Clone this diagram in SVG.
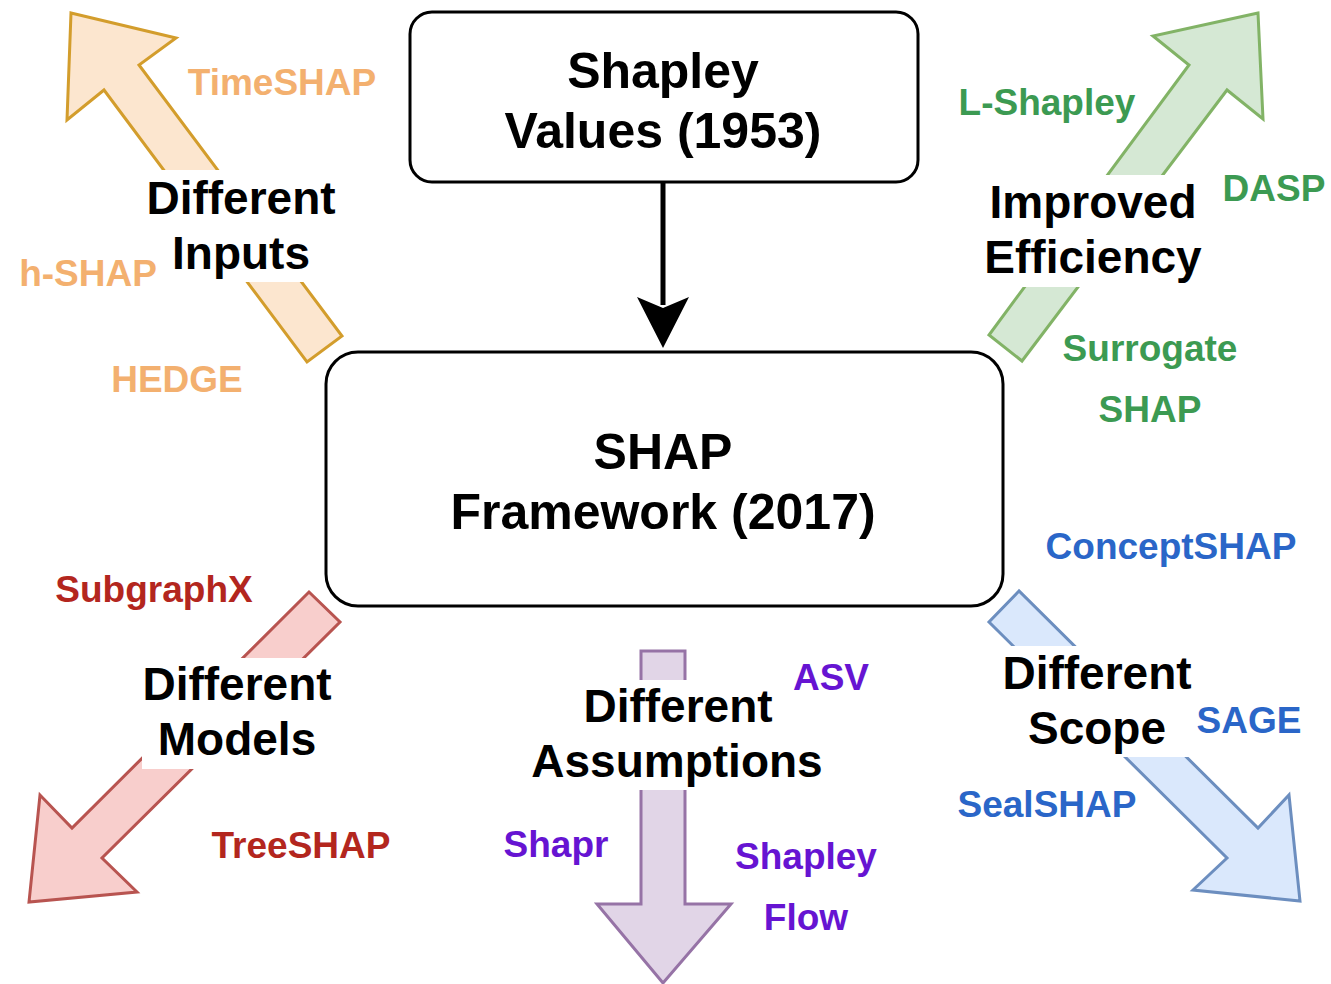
<svg xmlns="http://www.w3.org/2000/svg" width="1331" height="984" viewBox="0 0 1331 984">
<defs>
<style>
text{font-family:"Liberation Sans",Arial,Helvetica,sans-serif;font-weight:bold;text-anchor:middle}
.box{fill:#fff;stroke:#000;stroke-width:3}
.big{font-size:50px;fill:#000}
.cat{font-size:46px;fill:#000}
.lbl{font-size:37px}
.bg{fill:#fff}
.ar{stroke-width:3;stroke-linejoin:miter}
.orange{fill:#fce6cf;stroke:#d39d2c}
.green{fill:#d5e8d4;stroke:#82b366}
.red{fill:#f8cecc;stroke:#b85450}
.purple{fill:#e1d5e7;stroke:#9673a6}
.blue{fill:#dae8fc;stroke:#6c8ebf}
.t-orange{fill:#f3b06f}
.t-green{fill:#3c9a52}
.t-red{fill:#b3261e}
.t-purple{fill:#6614d2}
.t-blue{fill:#2a66c8}
</style>
</defs>

<g id="connectors">
<line x1="663" y1="183" x2="663" y2="305" stroke="#000" stroke-width="5"/>
<path d="M637,297 L663,308 L689,297 L663,348 Z" fill="#000"/>
<polygon class="ar orange" points="71,13 176,38 139,65 342,336 307,362 104,90 67,120"/>
<polygon class="ar green" points="1258,13 1153,36 1189,65 989,335 1022,361 1227,90 1263,119"/>
<polygon class="ar red" points="309,592 340,622 102,858 137,892 29,902 40,795 72,828"/>
<polygon class="ar purple" points="641,651 685,651 685,904 731,904 663,983 597,904 641,904"/>
<polygon class="ar blue" points="1019,591 989,622 1227,858 1193,890 1300,901 1289,795 1258,828"/>
</g>

<g id="shapley-values">
<rect class="box" x="410" y="12" width="508" height="170" rx="22"/>
<text class="big" x="663" y="88">Shapley</text>
<text class="big" x="663" y="148">Values (1953)</text>
</g>

<g id="shap-framework">
<rect class="box" x="326" y="352" width="677" height="254" rx="32"/>
<text class="big" x="663" y="469">SHAP</text>
<text class="big" x="663" y="529">Framework (2017)</text>
</g>

<g id="different-inputs">
<rect class="bg" x="145" y="170" width="193" height="112"/>
<text class="cat" x="241" y="214">Different</text>
<text class="cat" x="241" y="269">Inputs</text>
<text class="lbl t-orange" x="282" y="95">TimeSHAP</text>
<text class="lbl t-orange" x="88" y="286">h-SHAP</text>
<text class="lbl t-orange" x="177" y="392">HEDGE</text>
</g>

<g id="improved-efficiency">
<rect class="bg" x="983" y="175" width="220" height="112"/>
<text class="cat" x="1093" y="218">Improved</text>
<text class="cat" x="1093" y="273">Efficiency</text>
<text class="lbl t-green" x="1047" y="115">L-Shapley</text>
<text class="lbl t-green" x="1274" y="201">DASP</text>
<text class="lbl t-green" x="1150" y="361">Surrogate</text>
<text class="lbl t-green" x="1150" y="422">SHAP</text>
</g>

<g id="different-models">
<rect class="bg" x="142" y="658" width="192" height="111"/>
<text class="cat" x="237" y="700">Different</text>
<text class="cat" x="237" y="755">Models</text>
<text class="lbl t-red" x="154" y="602">SubgraphX</text>
<text class="lbl t-red" x="301" y="858">TreeSHAP</text>
</g>

<g id="different-assumptions">
<rect class="bg" x="528" y="680" width="297" height="110"/>
<text class="cat" x="678" y="722">Different</text>
<text class="cat" x="677" y="777">Assumptions</text>
<text class="lbl t-purple" x="831" y="690">ASV</text>
<text class="lbl t-purple" x="556" y="857">Shapr</text>
<text class="lbl t-purple" x="806" y="869">Shapley</text>
<text class="lbl t-purple" x="806" y="930">Flow</text>
</g>

<g id="different-scope">
<rect class="bg" x="1000" y="646" width="194" height="111"/>
<text class="cat" x="1097" y="689">Different</text>
<text class="cat" x="1097" y="744">Scope</text>
<text class="lbl t-blue" x="1171" y="559">ConceptSHAP</text>
<text class="lbl t-blue" x="1249" y="733">SAGE</text>
<text class="lbl t-blue" x="1047" y="817">SealSHAP</text>
</g>
</svg>
